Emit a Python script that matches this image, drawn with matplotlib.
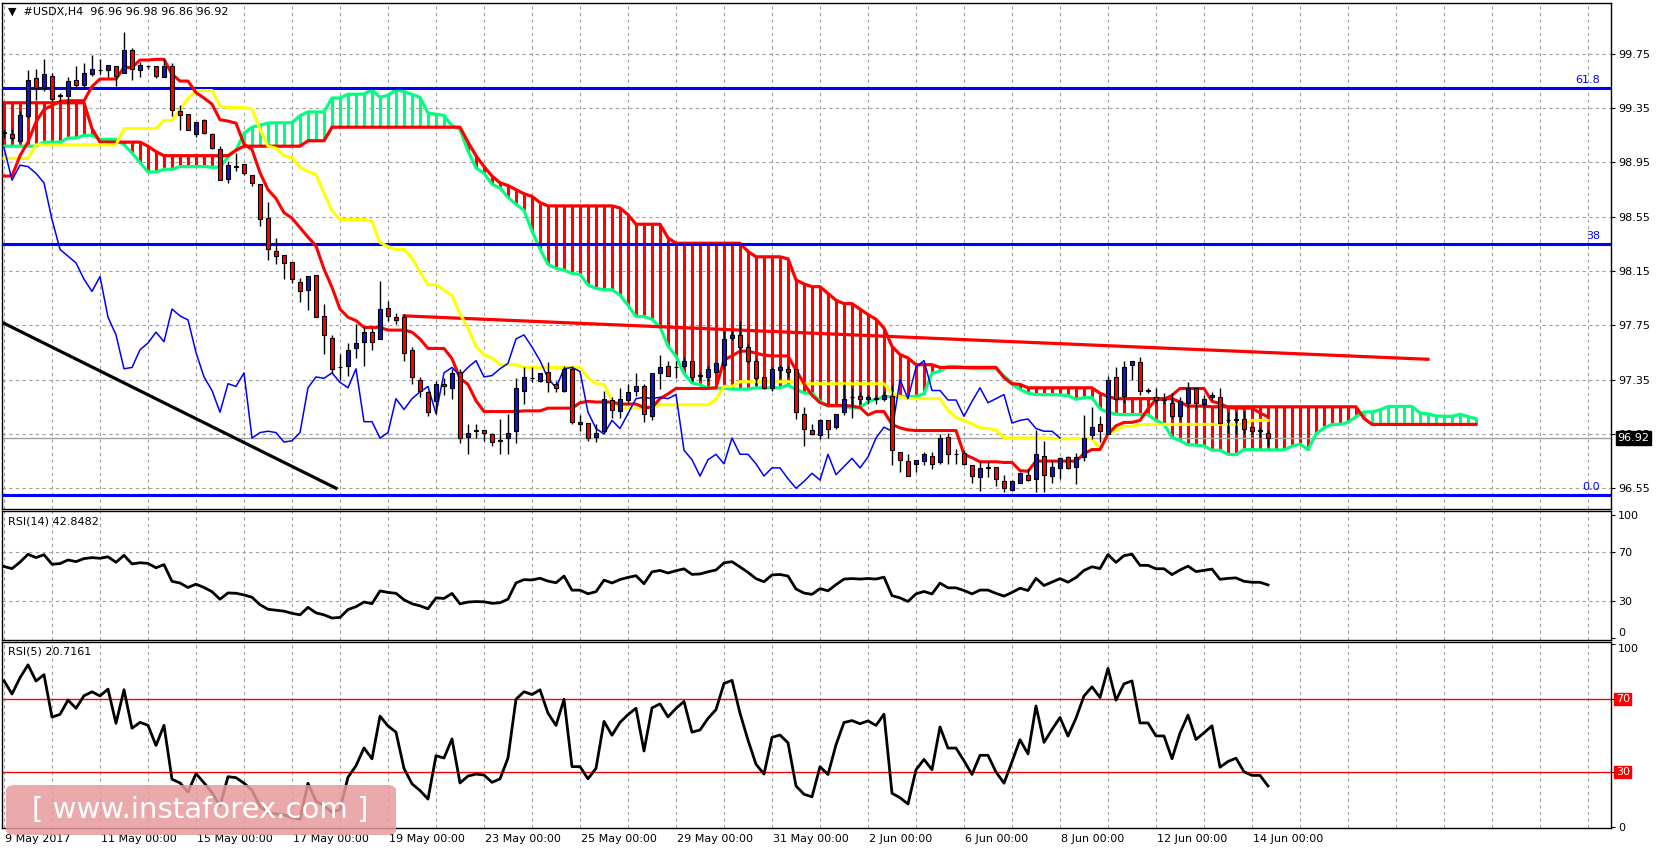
import matplotlib
matplotlib.use("Agg")
import matplotlib.pyplot as plt
from matplotlib.patches import FancyBboxPatch
import numpy as np
import pandas as pd

# H4 candles, bar 0 = 9 May 2017 00:00
OPEN = [99.17, 99.16, 99.11, 99.29, 99.57, 99.50, 99.59, 99.45, 99.44, 99.56,
        99.52, 99.60, 99.63, 99.63, 99.66, 99.61, 99.78, 99.63, 99.66, 99.66,
        99.58, 99.66, 99.33, 99.31, 99.16, 99.26, 99.16, 99.05, 98.83, 98.92,
        98.94, 98.86, 98.79, 98.54, 98.30, 98.27, 98.22, 98.07, 98.01, 98.12,
        97.82, 97.66, 97.44, 97.45, 97.58, 97.63, 97.70, 97.65, 97.88, 97.81,
        97.81, 97.57, 97.35, 97.26, 97.19, 97.32, 97.29, 97.41, 96.93, 96.98,
        96.98, 96.95, 96.90, 96.92, 96.97, 97.27, 97.36, 97.34, 97.41, 97.32,
        97.27, 97.43, 97.02, 97.03, 96.93, 96.97, 97.20, 97.12, 97.20, 97.27,
        97.30, 97.08, 97.40, 97.45, 97.44, 97.45, 97.49, 97.38, 97.37, 97.41,
        97.46, 97.66, 97.68, 97.59, 97.49, 97.37, 97.29, 97.42, 97.43, 97.43,
        97.10, 96.98, 96.94, 97.05, 97.00, 97.11, 97.22, 97.23, 97.21, 97.21,
        97.21, 97.23, 96.82, 96.75, 96.73, 96.75, 96.79, 96.74, 96.93, 96.80,
        96.81, 96.72, 96.63, 96.71, 96.71, 96.60, 96.54, 96.59, 96.65, 96.62,
        96.79, 96.64, 96.70, 96.78, 96.71, 96.78, 96.94, 97.02, 96.95, 97.37,
        97.23, 97.46, 97.48, 97.27, 97.22, 97.21, 97.18, 97.08, 97.18, 97.29,
        97.17, 97.22, 97.22, 97.05, 97.05, 97.06, 97.00, 96.98, 96.96]
HIGH = [99.20, 99.20, 99.33, 99.63, 99.64, 99.71, 99.61, 99.46, 99.58, 99.66,
        99.68, 99.74, 99.71, 99.67, 99.66, 99.91, 99.79, 99.69, 99.67, 99.66,
        99.71, 99.68, 99.37, 99.31, 99.25, 99.27, 99.17, 99.07, 98.96, 99.02,
        98.94, 98.86, 98.79, 98.66, 98.39, 98.27, 98.22, 98.10, 98.11, 98.12,
        97.91, 97.68, 97.54, 97.62, 97.76, 97.74, 97.73, 98.08, 97.93, 97.84,
        97.83, 97.59, 97.37, 97.27, 97.34, 97.36, 97.43, 97.43, 97.02, 97.02,
        96.98, 96.96, 97.06, 97.10, 97.36, 97.44, 97.44, 97.40, 97.48, 97.34,
        97.45, 97.45, 97.09, 97.03, 97.02, 97.27, 97.22, 97.29, 97.32, 97.40,
        97.32, 97.40, 97.53, 97.49, 97.49, 97.52, 97.49, 97.41, 97.45, 97.48,
        97.71, 97.71, 97.78, 97.61, 97.50, 97.37, 97.44, 97.46, 97.45, 97.43,
        97.15, 97.02, 97.06, 97.05, 97.10, 97.32, 97.29, 97.26, 97.24, 97.24,
        97.27, 97.31, 96.82, 96.80, 96.76, 96.82, 96.82, 96.95, 96.96, 96.84,
        96.83, 96.72, 96.75, 96.75, 96.71, 96.65, 96.61, 96.67, 96.69, 96.98,
        96.90, 96.76, 96.78, 96.79, 96.81, 97.09, 97.15, 97.08, 97.38, 97.44,
        97.49, 97.49, 97.52, 97.29, 97.29, 97.25, 97.25, 97.22, 97.33, 97.29,
        97.24, 97.26, 97.29, 97.11, 97.11, 97.12, 97.01, 97.00, 96.98]
LOW = [99.13, 99.11, 99.10, 99.28, 99.41, 99.48, 99.40, 99.40, 99.39, 99.50,
       99.50, 99.59, 99.60, 99.58, 99.51, 99.61, 99.56, 99.58, 99.64, 99.57,
       99.58, 99.29, 99.19, 99.19, 99.14, 99.16, 99.05, 98.82, 98.80, 98.89,
       98.86, 98.78, 98.48, 98.23, 98.20, 98.09, 98.06, 97.92, 97.86, 97.81,
       97.54, 97.40, 97.35, 97.38, 97.51, 97.45, 97.57, 97.65, 97.78, 97.76,
       97.49, 97.32, 97.22, 97.08, 97.10, 97.24, 97.21, 96.88, 96.80, 96.92,
       96.90, 96.86, 96.80, 96.80, 96.88, 97.17, 97.33, 97.33, 97.26, 97.26,
       97.26, 97.02, 96.97, 96.90, 96.89, 96.96, 97.07, 97.07, 97.17, 97.23,
       97.04, 97.05, 97.28, 97.38, 97.36, 97.44, 97.34, 97.35, 97.34, 97.40,
       97.43, 97.64, 97.55, 97.47, 97.31, 97.28, 97.27, 97.36, 97.37, 97.06,
       96.86, 96.94, 96.91, 96.92, 96.99, 97.09, 97.07, 97.17, 97.17, 97.17,
       97.19, 96.72, 96.67, 96.64, 96.67, 96.72, 96.69, 96.73, 96.73, 96.73,
       96.72, 96.59, 96.53, 96.63, 96.57, 96.52, 96.53, 96.59, 96.60, 96.52,
       96.52, 96.59, 96.62, 96.69, 96.58, 96.75, 96.91, 96.89, 96.95, 97.20,
       97.18, 97.35, 97.24, 97.25, 97.18, 97.17, 97.07, 97.05, 97.15, 97.14,
       97.14, 97.20, 97.02, 96.96, 96.95, 96.95, 96.95, 96.92, 96.86]
CLOSE = [99.17, 99.13, 99.30, 99.56, 99.50, 99.60, 99.42, 99.44, 99.55, 99.52,
         99.61, 99.64, 99.63, 99.67, 99.59, 99.78, 99.64, 99.67, 99.66, 99.59,
         99.66, 99.34, 99.30, 99.19, 99.25, 99.17, 99.06, 98.82, 98.93, 98.92,
         98.87, 98.80, 98.53, 98.31, 98.26, 98.21, 98.09, 98.00, 98.11, 97.81,
         97.68, 97.43, 97.44, 97.57, 97.62, 97.70, 97.63, 97.87, 97.82, 97.79,
         97.55, 97.37, 97.27, 97.11, 97.32, 97.30, 97.40, 96.92, 96.96, 96.97,
         96.96, 96.89, 96.90, 96.96, 97.29, 97.37, 97.36, 97.40, 97.33, 97.29,
         97.43, 97.04, 97.04, 96.92, 96.96, 97.21, 97.13, 97.21, 97.26, 97.30,
         97.10, 97.40, 97.44, 97.38, 97.44, 97.49, 97.37, 97.38, 97.43, 97.47,
         97.65, 97.68, 97.59, 97.49, 97.36, 97.29, 97.43, 97.44, 97.41, 97.11,
         96.99, 96.95, 97.05, 96.99, 97.10, 97.21, 97.22, 97.21, 97.22, 97.21,
         97.24, 96.83, 96.76, 96.64, 96.76, 96.80, 96.73, 96.92, 96.80, 96.80,
         96.73, 96.64, 96.70, 96.70, 96.62, 96.55, 96.60, 96.66, 96.61, 96.80,
         96.65, 96.71, 96.77, 96.70, 96.78, 96.92, 97.00, 96.97, 97.35, 97.21,
         97.44, 97.49, 97.27, 97.27, 97.20, 97.20, 97.08, 97.19, 97.29, 97.18,
         97.21, 97.24, 97.03, 97.05, 97.06, 96.99, 96.97, 96.97, 96.92]

# indicator values before the visible history starts
TENKAN_HEAD = [98.85, 98.85, 99.00, 99.10, 99.25, 99.34, 99.37, 99.40]
KIJUN_HEAD = [98.98, 98.98, 98.98, 98.98, 99.08, 99.08, 99.08, 99.08, 99.08, 99.08,
              99.08, 99.08, 99.08, 99.08, 99.08, 99.20, 99.20, 99.20, 99.20, 99.20,
              99.26, 99.26, 99.34, 99.42, 99.48, 99.48]
SPAN_A_HEAD = [99.07, 99.07, 99.07, 99.07, 99.07, 99.10, 99.10, 99.10, 99.13, 99.13,
               99.15, 99.15, 99.12, 99.12, 99.12, 99.08, 99.02, 98.95, 98.88, 98.88,
               98.90, 98.90, 98.92, 98.92, 98.92, 98.92]
SPAN_B_HEAD = [99.39, 99.39, 99.39, 99.39, 99.39, 99.39, 99.39, 99.39, 99.39, 99.39,
               99.39, 99.20, 99.10, 99.10, 99.10, 99.10, 99.10, 99.10, 99.07, 99.03,
               99.00, 99.00, 99.00, 99.00, 99.00, 99.00, 99.00, 99.00, 99.00, 99.04,
               99.07, 99.07, 99.07, 99.07, 99.07, 99.07, 99.07, 99.07, 99.11, 99.11,
               99.11, 99.21, 99.21, 99.21, 99.21, 99.21, 99.21, 99.21, 99.21, 99.21,
               99.21, 99.21, 99.21, 99.21, 99.21, 99.21, 99.21, 99.21, 99.10, 99.00,
               98.92, 98.85, 98.80, 98.78, 98.75, 98.72, 98.70]
# RSI level at the first visible bar, used to seed the averages
RSI14_START = 58
RSI5_START = 80

FIB_LEVELS = [99.50, 98.35, 96.50]
FIB_LABELS = ["61.8", "38", "0.0"]
RED_TREND = ([50, 178], [97.82, 97.50])
BLACK_TREND = ([-0.5, 41.5], [97.78, 96.55])
PRICE_TICKS = [96.55, 96.95, 97.35, 97.75, 98.15, 98.55, 98.95, 99.35, 99.75]
DATE_BARS = [0, 12, 24, 36, 48, 60, 72, 84, 96, 108, 120, 132, 144, 156]
DATE_LABELS = ["9 May 2017", "11 May 00:00", "15 May 00:00", "17 May 00:00",
               "19 May 00:00", "23 May 00:00", "25 May 00:00", "29 May 00:00",
               "31 May 00:00", "2 Jun 00:00", "6 Jun 00:00", "8 Jun 00:00",
               "12 Jun 00:00", "14 Jun 00:00"]

SHIFT = 26
W, H = 1657, 852
RED = "#ff0000"
GREEN = "#00ff80"
BLUE = "#0000ff"
BODY_BLUE = "#1414c8"


def rsi(close, n, start):
    # Wilder smoothing, seeded so the first bar sits at the level seen on the chart
    d = np.diff(np.asarray(close))
    m = np.mean(np.abs(d))
    up, dn = m * start / 100, m * (1 - start / 100)
    out = [start]
    for v in d:
        up = (up * (n - 1) + max(v, 0)) / n
        dn = (dn * (n - 1) + max(-v, 0)) / n
        out.append(100 - 100 / (1 + up / dn) if dn > 0 else 100)
    return np.array(out)


def ax_rect(top_px, bottom_px):
    return [2 / W, 1 - bottom_px / H, 1609 / W, (bottom_px - top_px) / H]


hi = pd.Series(HIGH)
lo = pd.Series(LOW)
n = len(CLOSE)
x = np.arange(n)

tenkan = ((hi.rolling(9, min_periods=1).max() + lo.rolling(9, min_periods=1).min()) / 2).to_numpy()
kijun = ((hi.rolling(26, min_periods=1).max() + lo.rolling(26, min_periods=1).min()) / 2).to_numpy()
tenkan[:len(TENKAN_HEAD)] = TENKAN_HEAD
kijun[:len(KIJUN_HEAD)] = KIJUN_HEAD
mid52 = ((hi.rolling(52, min_periods=1).max() + lo.rolling(52, min_periods=1).min()) / 2).to_numpy()
span_a = np.concatenate([SPAN_A_HEAD, (tenkan + kijun) / 2])
span_b = np.concatenate([SPAN_B_HEAD, mid52[len(SPAN_B_HEAD) - SHIFT:]])
xc = np.arange(len(span_a))
chikou = np.array(CLOSE[SHIFT:])

fig = plt.figure(figsize=(W / 100, H / 100), dpi=100)
ax = fig.add_axes(ax_rect(3, 509))
ax1 = fig.add_axes(ax_rect(511, 640), sharex=ax)
ax2 = fig.add_axes(ax_rect(642, 828), sharex=ax)

for a in (ax, ax1, ax2):
    a.yaxis.tick_right()
    a.tick_params(axis="y", labelsize=8, length=3, pad=2, colors="black")
    a.tick_params(axis="x", length=0, labelbottom=False)
    for s in a.spines.values():
        s.set_linewidth(1)
    for xv in range(0, 201, 6):
        a.axvline(xv, color="#a0a0a0", ls=(0, (3, 3)), lw=0.8, zorder=0)

ax.set_xlim(-0.25, 200.875)
ax.set_ylim(96.397, 100.125)
ax.set_yticks(PRICE_TICKS)
ax.set_yticklabels([f"{v:.2f}" for v in PRICE_TICKS])
for v in PRICE_TICKS:
    ax.axhline(v, color="#a0a0a0", ls=(0, (3, 3)), lw=0.8, zorder=0)

# cloud hatching and spans
cols = [RED if b > a else GREEN for a, b in zip(span_a, span_b)]
ax.vlines(xc, span_a, span_b, colors=cols, lw=2.2, zorder=1)
ax.plot(xc, span_a, color=GREEN, lw=2.3, zorder=2)
ax.plot(xc, span_b, color=RED, lw=2.3, zorder=2)

for lvl, lab in zip(FIB_LEVELS, FIB_LABELS):
    ax.axhline(lvl, color=BLUE, lw=2.2, zorder=3)
    ax.text(199.5, lvl + 0.02, lab, color=BLUE, fontsize=8, ha="right", va="bottom")

ax.plot(*RED_TREND, color=RED, lw=2.3, zorder=3)
ax.plot(*BLACK_TREND, color="black", lw=2.3, zorder=3)
ax.axhline(CLOSE[-1], color="#a0a0a0", lw=1, zorder=1)

ax.plot(x, kijun, color="#ffff00", lw=2.2, zorder=4)
ax.plot(x, tenkan, color=RED, lw=2.2, zorder=4)
ax.plot(np.arange(len(chikou)), chikou, color=BLUE, lw=1.1, zorder=4)

# candles
o = np.array(OPEN)
c = np.array(CLOSE)
ax.vlines(x, LOW, HIGH, colors="black", lw=1, zorder=5)
body_col = [BODY_BLUE if cc >= oo else RED for oo, cc in zip(o, c)]
heights = np.maximum(np.abs(c - o), 0.004)
ax.bar(x, heights, bottom=np.minimum(o, c), width=0.6, color=body_col,
       edgecolor="black", linewidth=0.8, zorder=6)

ax.text(0.004, 0.992, "\u25bc  #USDX,H4  96.96 96.98 96.86 96.92", transform=ax.transAxes,
        fontsize=8, va="top", ha="left")
ax.text(1.004, (CLOSE[-1] - 96.397) / (100.125 - 96.397), f"{CLOSE[-1]:.2f}", transform=ax.transAxes,
        fontsize=8, va="center", ha="left", color="white",
        bbox=dict(boxstyle="square,pad=0.15", fc="black", ec="black"))

# RSI panels
r14 = rsi(CLOSE, 14, RSI14_START)
r5 = rsi(CLOSE, 5, RSI5_START)
ax1.set_ylim(-1.6, 103.0)
ax1.set_yticks([0, 30, 70, 100])
for v in (30, 70):
    ax1.axhline(v, color="#a0a0a0", ls=(0, (3, 3)), lw=0.8, zorder=0)
ax1.plot(x, r14, color="black", lw=2, zorder=3)
ax1.text(0.004, 0.96, "RSI(14) 42.8482", transform=ax1.transAxes, fontsize=8, va="top")
ax1.get_yticklabels()[0].set_va("bottom")

ax2.set_ylim(-0.7, 101.2)
ax2.set_yticks([0, 30, 70, 100])
ax2.set_yticklabels(["0", "", "", "100"])
ax2.get_yticklabels()[3].set_va("top")
for v in (30, 70):
    ax2.axhline(v, color=RED, lw=1, zorder=1)
    ax2.text(1.003, (v + 0.7) / 101.9, str(v), transform=ax2.transAxes, fontsize=8,
             va="center", ha="left", color="white",
             bbox=dict(boxstyle="square,pad=0.12", fc=RED, ec=RED))
ax2.plot(x, r5, color="black", lw=2, zorder=3)
ax2.text(0.004, 0.975, "RSI(5) 20.7161", transform=ax2.transAxes, fontsize=8, va="top")

for b, lab in zip(DATE_BARS, DATE_LABELS):
    ax2.annotate(lab, xy=(b, 0), xycoords=("data", "axes fraction"), xytext=(1, -4),
                 textcoords="offset points", fontsize=8, ha="left", va="top",
                 annotation_clip=False)

wm = FancyBboxPatch((6 / W, 1 - 835 / H), 390 / W, 50 / H, boxstyle="round,pad=0,rounding_size=0.006",
                    transform=fig.transFigure, fc="#e79a9c", ec="none", alpha=0.85, zorder=10)
fig.patches.append(wm)
fig.text(200 / W, 1 - 810 / H, "[ www.instaforex.com ]", color="white", fontsize=21,
         ha="center", va="center", zorder=11)

fig.savefig("out.png", dpi=100)
